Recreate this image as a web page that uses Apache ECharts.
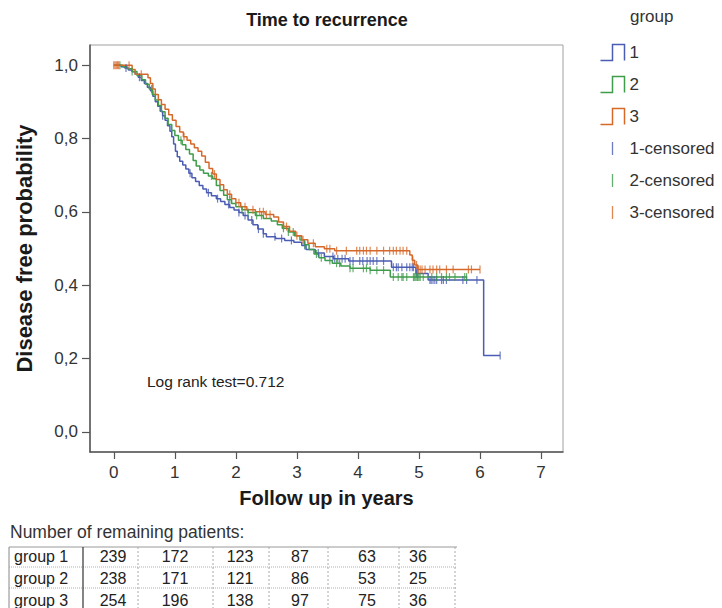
<!DOCTYPE html>
<html>
<head>
<meta charset="utf-8">
<script src="https://cdn.jsdelivr.net/npm/echarts@6/dist/echarts.min.js"></script>
<style>html,body{margin:0;padding:0;background:#fff}#c{width:722px;height:608px}</style>
</head>
<body>
<div id="c"></div>
<script>
// ---------- data ----------
const titleText = 'Time to recurrence';
const xAxisName = 'Follow up in years';
const yAxisName = 'Disease free probability';
const xTickValues = [0, 1, 2, 3, 4, 5, 6, 7];
const yTickValues = [0, 0.2, 0.4, 0.6, 0.8, 1.0];
const legendTitle = 'group';
const groupNames = ['1', '2', '3'];
const censoredNames = ['1-censored', '2-censored', '3-censored'];
const logRankText = 'Log rank test=0.712';

// Kaplan-Meier steps [time, survival after event]
const group1Steps = [[0,1],[0.12,0.996],[0.18,0.992],[0.24,0.987],[0.3,0.982],[0.35,0.975],[0.4,0.967],[0.45,0.958],[0.5,0.95],[0.55,0.94],[0.6,0.93],[0.64,0.915],[0.68,0.9],[0.72,0.888],[0.76,0.874],[0.8,0.862],[0.84,0.85],[0.88,0.835],[0.92,0.82],[0.95,0.805],[0.98,0.785],[1.01,0.765],[1.04,0.75],[1.08,0.738],[1.13,0.728],[1.18,0.717],[1.23,0.705],[1.28,0.693],[1.34,0.683],[1.4,0.672],[1.46,0.662],[1.52,0.652],[1.6,0.644],[1.68,0.636],[1.75,0.628],[1.82,0.62],[1.9,0.612],[1.97,0.605],[2.05,0.598],[2.12,0.59],[2.2,0.578],[2.28,0.565],[2.36,0.553],[2.45,0.54],[2.5,0.532],[2.65,0.527],[2.8,0.522],[2.95,0.517],[3.08,0.508],[3.15,0.497],[3.3,0.488],[3.45,0.478],[3.6,0.472],[3.85,0.466],[4.55,0.449],[4.95,0.432],[5.15,0.414],[6.06,0.208],[6.33,0.208]];
const group2Steps = [[0,1],[0.15,0.996],[0.22,0.99],[0.3,0.983],[0.38,0.972],[0.46,0.96],[0.52,0.948],[0.58,0.935],[0.63,0.92],[0.68,0.905],[0.73,0.89],[0.78,0.873],[0.84,0.855],[0.89,0.838],[0.95,0.822],[1.0,0.808],[1.06,0.795],[1.12,0.783],[1.18,0.77],[1.24,0.758],[1.3,0.74],[1.35,0.725],[1.41,0.714],[1.47,0.705],[1.55,0.698],[1.62,0.69],[1.68,0.672],[1.74,0.658],[1.8,0.645],[1.86,0.633],[1.93,0.623],[2.0,0.614],[2.1,0.606],[2.2,0.598],[2.32,0.59],[2.45,0.582],[2.58,0.575],[2.68,0.565],[2.76,0.555],[2.86,0.545],[2.96,0.535],[3.05,0.523],[3.12,0.51],[3.2,0.497],[3.28,0.485],[3.36,0.475],[3.46,0.467],[3.58,0.46],[3.72,0.452],[3.87,0.446],[4.2,0.441],[4.53,0.422],[5.78,0.422]];
const group3Steps = [[0,1],[0.3,0.988],[0.35,0.975],[0.56,0.966],[0.6,0.95],[0.64,0.935],[0.68,0.92],[0.73,0.906],[0.78,0.893],[0.84,0.88],[0.9,0.865],[0.96,0.85],[1.02,0.833],[1.08,0.818],[1.14,0.805],[1.2,0.795],[1.26,0.785],[1.32,0.775],[1.38,0.765],[1.44,0.752],[1.5,0.735],[1.56,0.718],[1.62,0.703],[1.68,0.688],[1.74,0.674],[1.8,0.66],[1.86,0.648],[1.93,0.636],[2.0,0.625],[2.08,0.614],[2.18,0.606],[2.32,0.6],[2.48,0.593],[2.62,0.586],[2.7,0.572],[2.78,0.56],[2.88,0.547],[2.98,0.535],[3.08,0.524],[3.18,0.514],[3.3,0.505],[3.45,0.499],[3.62,0.494],[4.85,0.482],[4.89,0.468],[4.93,0.455],[4.98,0.443],[6.0,0.443]];

// censoring times
const group1Censored = [0.2,0.42,0.8,1.25,1.55,1.7,1.88,2.05,2.15,2.26,2.37,2.45,2.64,2.75,2.91,3.13,3.35,3.59,3.62,3.67,3.74,3.79,3.87,3.92,4.03,4.08,4.15,4.2,4.25,4.31,4.42,4.58,4.63,4.66,4.72,4.8,4.85,4.89,4.91,4.96,4.98,5.18,5.2,5.23,5.26,5.29,5.37,5.4,5.45,5.72,5.78,5.95,6.33];
const group2Censored = [0.1,0.3,0.62,1.1,1.6,1.9,2.1,2.2,2.34,2.42,2.78,2.86,2.94,3.13,3.32,3.4,3.54,3.65,3.7,3.87,3.92,4.09,4.14,4.2,4.31,4.42,4.58,4.66,4.72,4.74,4.8,4.91,4.93,4.95,4.97,4.98,5.0,5.02,5.07,5.21,5.29,5.37,5.45,5.5,5.59,5.75,5.78];
const group3Censored = [0,0.02,0.04,0.06,0.08,0.25,0.45,1.15,1.65,1.9,2.05,2.15,2.28,2.39,2.45,2.5,2.56,2.78,2.83,3.0,3.1,3.27,3.49,3.54,3.65,3.81,3.98,4.03,4.09,4.14,4.2,4.31,4.42,4.52,4.58,4.63,4.69,4.74,4.8,4.9,4.96,4.99,5.02,5.05,5.1,5.18,5.23,5.29,5.34,5.45,5.56,5.81,5.86,6.0];

// number at risk table
const tableCaption = 'Number of remaining patients:';
const tableRowLabels = ['group 1', 'group 2', 'group 3'];
const remainingGroup1 = [239, 172, 123, 87, 63, 36];
const remainingGroup2 = [238, 171, 121, 86, 53, 25];
const remainingGroup3 = [254, 196, 138, 97, 75, 36];

// ---------- styling / layout ----------
const FONT = "'Liberation Sans', Arial, Helvetica, sans-serif";
const colors = ['#4a5cb3', '#3f9c4b', '#d6692a'];
const stepsList = [group1Steps, group2Steps, group3Steps];
const censList = [group1Censored, group2Censored, group3Censored];
const tableRows = [remainingGroup1, remainingGroup2, remainingGroup3];

function survivalAt(steps, t) {
  let v = steps[0][1];
  for (const s of steps) { if (s[0] <= t + 1e-9) v = s[1]; else break; }
  return v;
}

const series = [];
groupNames.forEach((n, i) => {
  series.push({
    name: n, type: 'line', step: 'end', data: stepsList[i],
    symbol: 'none', showSymbol: false, animation: false, z: 2 + i,
    lineStyle: { color: colors[i], width: 1.5 }, itemStyle: { color: colors[i] }
  });
});
censoredNames.forEach((n, i) => {
  series.push({
    name: n, type: 'scatter', animation: false, z: 5 + i,
    data: censList[i].map(t => [t, survivalAt(stepsList[i], t)]),
    symbol: 'rect', symbolSize: [1.2, 8],
    itemStyle: { color: colors[i] }
  });
});

const stepIcon = 'path://M0,16 L12,16 L12,0 L24,0 L24,16';
const tickIcon = 'path://M0,0 M12,1.5 L12,14.5 M24,16';
const legendData = [];
groupNames.forEach((n, i) => legendData.push({ name: n, icon: stepIcon,
  itemStyle: { color: 'none', borderColor: colors[i], borderWidth: 1.5 } }));
censoredNames.forEach((n, i) => legendData.push({ name: n, icon: tickIcon,
  itemStyle: { color: 'none', borderColor: colors[i], borderWidth: 1.3 } }));

// table graphics
const colEdges = [9, 83, 138, 213, 269, 328, 399, 455];
const rowEdges = [547, 567, 588, 612];
const numCenters = [113, 175, 240, 300, 367, 418];
const rowCenters = [556, 578, 600];
const graphics = [];
graphics.push({ type: 'text', x: 327, y: 20, style: { text: titleText, font: 'bold 18px ' + FONT, fill: '#1a1a1a', textAlign: 'center', textVerticalAlign: 'middle', align: 'center', verticalAlign: 'middle' } });
graphics.push({ type: 'text', x: 147, y: 381, style: { text: logRankText, font: '15.5px ' + FONT, fill: '#222', textAlign: 'left', textVerticalAlign: 'middle', align: 'left', verticalAlign: 'middle' } });
graphics.push({ type: 'text', x: 10, y: 532, style: { text: tableCaption, font: '17.5px ' + FONT, fill: '#333', textAlign: 'left', textVerticalAlign: 'middle', align: 'left', verticalAlign: 'middle' } });
// table lines
graphics.push({ type: 'line', shape: { x1: colEdges[0], y1: rowEdges[0], x2: 457, y2: rowEdges[0] }, style: { stroke: '#999', lineWidth: 1 } });
for (let r = 1; r < 3; r++) {
  graphics.push({ type: 'line', shape: { x1: colEdges[0], y1: rowEdges[r], x2: 457, y2: rowEdges[r] }, style: { stroke: '#b0b0b0', lineWidth: 1, lineDash: [1, 1] } });
}
graphics.push({ type: 'line', shape: { x1: colEdges[0], y1: rowEdges[0], x2: colEdges[0], y2: rowEdges[3] }, style: { stroke: '#888', lineWidth: 1 } });
graphics.push({ type: 'line', shape: { x1: colEdges[1], y1: rowEdges[0], x2: colEdges[1], y2: rowEdges[3] }, style: { stroke: '#333', lineWidth: 1.2 } });
for (let c = 2; c < colEdges.length; c++) {
  graphics.push({ type: 'line', shape: { x1: colEdges[c], y1: rowEdges[0], x2: colEdges[c], y2: rowEdges[3] }, style: { stroke: '#aaa', lineWidth: 1, lineDash: [2, 2] } });
}
tableRowLabels.forEach((lab, r) => {
  graphics.push({ type: 'text', x: 14, y: rowCenters[r], style: { text: lab, font: '16px ' + FONT, fill: '#222', textAlign: 'left', textVerticalAlign: 'middle', align: 'left', verticalAlign: 'middle' } });
  tableRows[r].forEach((v, c) => {
    graphics.push({ type: 'text', x: numCenters[c], y: rowCenters[r], style: { text: String(v), font: '16px ' + FONT, fill: '#222', textAlign: 'center', textVerticalAlign: 'middle', align: 'center', verticalAlign: 'middle' } });
  });
});

const chart = echarts.init(document.getElementById('c'), null, { renderer: 'svg' });
chart.setOption({
  animation: false,
  backgroundColor: '#fff',
  textStyle: { fontFamily: FONT },
  title: [{ text: legendTitle, left: 625, top: 3, textStyle: { fontSize: 17, fontWeight: 'normal', color: '#333', fontFamily: FONT } }],
  legend: {
    orient: 'vertical', left: 593, top: 37, itemWidth: 24, itemHeight: 16, itemGap: 11,
    selectedMode: false, data: legendData,
    textStyle: { fontSize: 17, color: '#333', fontFamily: FONT }
  },
  grid: { left: 90, top: 45, right: 159, bottom: 156, show: true, borderColor: '#a0a0a0', borderWidth: 1, outerBoundsMode: 'none' },
  xAxis: {
    type: 'value', min: -0.39, max: 7.36,
    name: xAxisName, nameLocation: 'middle', nameGap: 36,
    nameTextStyle: { fontSize: 20, fontWeight: 'bold', color: '#1a1a1a', fontFamily: FONT },
    axisLine: { show: true, onZero: false, lineStyle: { color: '#555', width: 1.5 } },
    axisTick: { show: true, length: 7, inside: false, customValues: xTickValues, lineStyle: { color: '#555', width: 1.2 } },
    axisLabel: { customValues: xTickValues, fontSize: 17, color: '#333', margin: 12, fontFamily: FONT },
    splitLine: { show: false }
  },
  yAxis: {
    type: 'value', min: -0.055, max: 1.055,
    name: yAxisName, nameLocation: 'middle', nameGap: 55,
    nameTextStyle: { fontSize: 22, fontWeight: 'bold', color: '#1a1a1a', fontFamily: FONT },
    axisLine: { show: true, onZero: false, lineStyle: { color: '#555', width: 1.5 } },
    axisTick: { show: true, length: 8, inside: false, customValues: yTickValues, lineStyle: { color: '#555', width: 1.2 } },
    axisLabel: { customValues: yTickValues, fontSize: 17, color: '#333', margin: 12, fontFamily: FONT,
      formatter: v => v.toFixed(1).replace('.', ',') },
    splitLine: { show: false }
  },
  series: series,
  graphic: graphics
});
</script>
</body>
</html>
